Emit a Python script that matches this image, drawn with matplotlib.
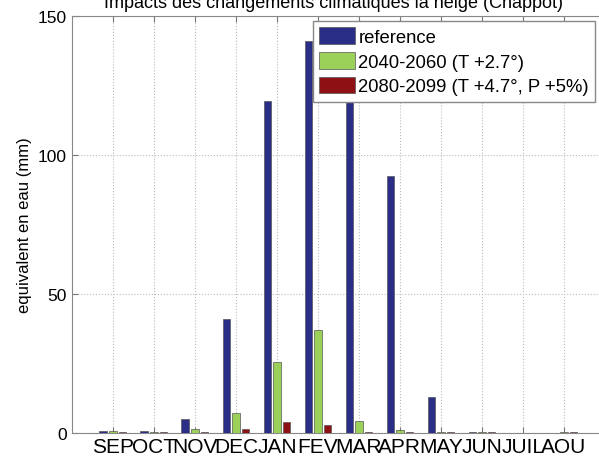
import numpy as np
import matplotlib.pyplot as plt

plt.rcParams['font.family'] = ['Liberation Sans', 'DejaVu Sans']

mois = ['SEP', 'OCT', 'NOV', 'DEC', 'JAN', 'FEV', 'MAR', 'APR', 'MAY', 'JUN', 'JUIL', 'AOU']
reference = [0.8, 0.8, 5.0, 41.0, 119.5, 141.0, 126.0, 92.5, 13.0, 0.5, 0.0, 0.0]
futur_2050 = [0.8, 0.2, 1.5, 7.2, 25.5, 37.0, 4.5, 1.2, 0.2, 0.2, 0.1, 0.3]
futur_2090 = [0.5, 0.2, 0.2, 1.5, 4.0, 2.8, 0.2, 0.2, 0.2, 0.2, 0.0, 0.2]
noms = ['reference', '2040-2060 (T +2.7°)', '2080-2099 (T +4.7°, P +5%)']
couleurs = ['#2a2e86', '#9bd159', '#8c1014']

fig = plt.figure(figsize=(5.99, 4.60), dpi=100)
ax = fig.add_axes([0.120, 0.0565, 0.890, 0.9065])

x = np.arange(1, len(mois) + 1)
larg = 0.19
dec = 0.232
for i, vals in enumerate([reference, futur_2050, futur_2090]):
    ax.bar(x + (i - 1) * dec, vals, larg, color=couleurs[i], edgecolor='#555555',
           linewidth=0.5, label=noms[i], zorder=3)

ax.set_xlim(0, 13)
ax.set_ylim(0, 150)
ax.set_xticks(x)
ax.set_xticklabels(mois, fontsize=15)
ax.set_yticks([0, 50, 100, 150])
ax.tick_params(axis='y', labelsize=12.5)
ax.tick_params(direction='in', top=True, right=True, length=4, color='#777777')
ax.tick_params(axis='x', pad=3)
ax.grid(True, linestyle=':', color='#bbbbbb', linewidth=0.8, zorder=0)
for s in ax.spines.values():
    s.set_color('#888888')
ax.set_ylabel('equivalent en eau (mm)', fontsize=12)

fig.text(0.557, 1 - 3 / 460, 'Impacts des changements climatiques la neige (Chappot)',
         ha='center', va='center', fontsize=13)

leg = ax.legend(loc='upper left', bbox_to_anchor=(313 / 599, 1 - 22 / 460),
                bbox_transform=fig.transFigure, fontsize=13.3, fancybox=False,
                framealpha=1, edgecolor='#888888', handlelength=1.9, handleheight=1.0,
                handletextpad=0.2, labelspacing=0.33, borderpad=0.35, borderaxespad=0)
leg.set_zorder(5)

fig.savefig('out.png', dpi=100)
